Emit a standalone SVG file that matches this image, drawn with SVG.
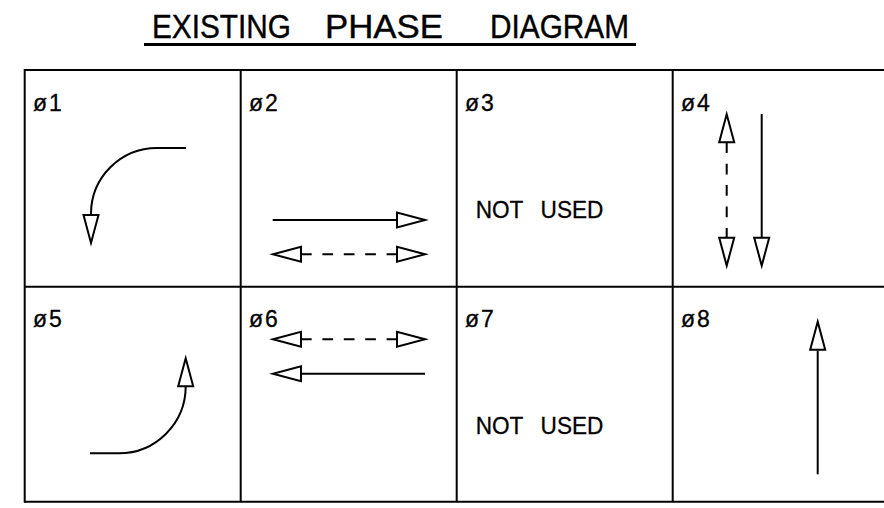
<svg xmlns="http://www.w3.org/2000/svg" xmlns:xlink="http://www.w3.org/1999/xlink" width="884" height="508" viewBox="0 0 884 508">
<style>
  .grid{stroke:#000;stroke-width:2;fill:none}
  .ln{stroke:#000;stroke-width:2;fill:none}
  .dash{stroke:#000;stroke-width:2;fill:none;stroke-dasharray:10.7 10.7}
  .hd{fill:#fff;stroke:#000;stroke-width:2;stroke-linejoin:miter}
  .lbl{font-family:"Liberation Sans",Arial,sans-serif;font-size:23px;fill:#000;letter-spacing:2px;stroke:#000;stroke-width:0.3}
  .nu{font-family:"Liberation Sans",Arial,sans-serif;font-size:24px;fill:#000;word-spacing:12px;stroke:#000;stroke-width:0.3}
  .ttl{font-family:"Liberation Sans",Arial,sans-serif;font-size:33px;fill:#000;stroke:#000;stroke-width:0.4}
</style>
<defs>
  <path id="head" class="hd" d="M0,0 L-28,-7.5 L-28,7.5 Z"/>
</defs>
<rect width="884" height="508" fill="#fff"/>

<g id="title">
  <text class="ttl" x="152" y="38" textLength="139" lengthAdjust="spacingAndGlyphs">EXISTING</text>
  <text class="ttl" x="325" y="38" textLength="118" lengthAdjust="spacingAndGlyphs">PHASE</text>
  <text class="ttl" x="490" y="38" textLength="139" lengthAdjust="spacingAndGlyphs">DIAGRAM</text>
  <line x1="144" y1="44.5" x2="636" y2="44.5" stroke="#000" stroke-width="3"/>
</g>

<g id="grid" class="grid">
  <line x1="24.7" y1="70" x2="884" y2="70"/>
  <line x1="24.7" y1="286.7" x2="884" y2="286.7"/>
  <line x1="24.7" y1="501.7" x2="884" y2="501.7"/>
  <line x1="24.7" y1="69" x2="24.7" y2="502.7"/>
  <line x1="240.7" y1="70" x2="240.7" y2="501.7"/>
  <line x1="456.7" y1="70" x2="456.7" y2="501.7"/>
  <line x1="672.7" y1="70" x2="672.7" y2="501.7"/>
</g>

<g id="phase1">
  <text class="lbl" x="33" y="111">ø1</text>
</g>
<g id="phase2">
  <text class="lbl" x="249" y="111">ø2</text>
</g>
<g id="phase3">
  <text class="lbl" x="465" y="111">ø3</text>
  <text class="nu" x="475.7" y="217.7" textLength="127.7" lengthAdjust="spacingAndGlyphs">NOT USED</text>
</g>
<g id="phase4">
  <text class="lbl" x="681" y="111">ø4</text>
</g>
<g id="phase5">
  <text class="lbl" x="33" y="326.5">ø5</text>
</g>
<g id="phase6">
  <text class="lbl" x="249" y="326.5">ø6</text>
</g>
<g id="phase7">
  <text class="lbl" x="465" y="326.5">ø7</text>
  <text class="nu" x="475.7" y="433.7" textLength="127.7" lengthAdjust="spacingAndGlyphs">NOT USED</text>
</g>
<g id="phase8">
  <text class="lbl" x="681" y="326.5">ø8</text>
</g>

<g id="connectors">
  <!-- phase 1: left turn -->
  <path class="ln" d="M186,148 H157 A66,66 0 0 0 91,214"/>
  <use xlink:href="#head" href="#head" transform="translate(91,243) rotate(90)"/>
  <!-- phase 2 -->
  <line class="ln" x1="272.7" y1="220" x2="397" y2="220"/>
  <use xlink:href="#head" href="#head" transform="translate(425,220)"/>
  <line class="dash" x1="301" y1="254.3" x2="397" y2="254.3"/>
  <use xlink:href="#head" href="#head" transform="translate(273,254.3) rotate(180)"/>
  <use xlink:href="#head" href="#head" transform="translate(425,254.3)"/>
  <!-- phase 4 -->
  <line class="dash" x1="726.7" y1="142.3" x2="726.7" y2="237.7"/>
  <use xlink:href="#head" href="#head" transform="translate(726.7,114.3) rotate(-90)"/>
  <use xlink:href="#head" href="#head" transform="translate(726.7,265.7) rotate(90)"/>
  <line class="ln" x1="761.7" y1="114" x2="761.7" y2="237.7"/>
  <use xlink:href="#head" href="#head" transform="translate(761.7,265.7) rotate(90)"/>
  <!-- phase 5: right turn -->
  <path class="ln" d="M90,453.3 H118.7 A67,67 0 0 0 185.7,386.3"/>
  <use xlink:href="#head" href="#head" transform="translate(185.7,358.3) rotate(-90)"/>
  <!-- phase 6 -->
  <line class="dash" x1="301" y1="339.3" x2="397" y2="339.3"/>
  <use xlink:href="#head" href="#head" transform="translate(273,339.3) rotate(180)"/>
  <use xlink:href="#head" href="#head" transform="translate(425,339.3)"/>
  <line class="ln" x1="301" y1="373.7" x2="425" y2="373.7"/>
  <use xlink:href="#head" href="#head" transform="translate(273,373.7) rotate(180)"/>
  <!-- phase 8 -->
  <line class="ln" x1="817.7" y1="474.3" x2="817.7" y2="350.7"/>
  <use xlink:href="#head" href="#head" transform="translate(817.7,321.7) rotate(-90)"/>
</g>
</svg>
